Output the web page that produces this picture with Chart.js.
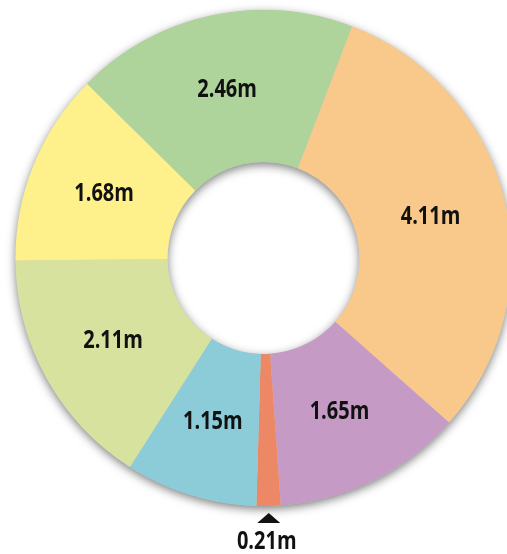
<!DOCTYPE html>
<html>
<head>
<meta charset="utf-8">
<script src="https://cdn.jsdelivr.net/npm/chart.js@4/dist/chart.umd.min.js"></script>
<style>
  html, body { margin: 0; padding: 0; background: #fff; overflow: hidden; width: 507px; height: 554px; }
  #wrap { position: absolute; left: 0; top: 0; width: 527px; height: 554px; }
</style>
</head>
<body>
<div id="wrap"><canvas id="c"></canvas></div>
<script>
const categories = ['Segment A', 'Segment B', 'Segment C', 'Segment D', 'Segment E', 'Segment F', 'Segment G'];
const values = [4.11, 1.65, 0.21, 1.15, 2.11, 1.68, 2.46];
const colors = ['#F8C98A', '#C59AC5', '#EC8866', '#8BCCD8', '#D6E29E', '#FEF08A', '#AED39B'];
const unit = 'm';

const FONT = "bold 25px 'Open Sans', 'Liberation Sans', sans-serif";
const X_SCALE = 0.8;

function drawCondensed(ctx, text, x, y) {
  ctx.save();
  ctx.translate(x, y);
  ctx.scale(X_SCALE, 1);
  ctx.fillText(text, 0, 0);
  ctx.restore();
}

const ringShadow = {
  id: 'ringShadow',
  beforeDatasetsDraw(chart) {
    const meta = chart.getDatasetMeta(0);
    if (!meta.data.length) return;
    const a = meta.data[0];
    const ctx = chart.ctx;
    ctx.save();
    ctx.shadowColor = 'rgba(0,0,0,0.5)';
    ctx.shadowBlur = 10;
    ctx.shadowOffsetX = 0;
    ctx.shadowOffsetY = 3;
    ctx.fillStyle = '#ccc';
    ctx.beginPath();
    ctx.arc(a.x, a.y, a.outerRadius, 0, Math.PI * 2);
    ctx.arc(a.x, a.y, a.innerRadius, 0, Math.PI * 2, true);
    ctx.closePath();
    ctx.fill();
    ctx.restore();
  }
};

const sliceLabels = {
  id: 'sliceLabels',
  afterDatasetsDraw(chart) {
    const ctx = chart.ctx;
    const meta = chart.getDatasetMeta(0);
    ctx.save();
    ctx.font = FONT;
    ctx.fillStyle = '#111';
    ctx.textAlign = 'center';
    ctx.textBaseline = 'middle';
    meta.data.forEach((arc, i) => {
      const text = values[i].toFixed(2) + unit;
      const mid = (arc.startAngle + arc.endAngle) / 2;
      const span = arc.endAngle - arc.startAngle;
      if (span > 0.3) {
        const r = (arc.innerRadius + arc.outerRadius) / 2;
        drawCondensed(ctx, text, arc.x + Math.cos(mid) * r, arc.y + Math.sin(mid) * r);
      } else {
        const r0 = arc.outerRadius + 7;
        const px = arc.x + Math.cos(mid) * r0;
        const py = arc.y + Math.sin(mid) * r0;
        ctx.beginPath();
        ctx.moveTo(px, py);
        ctx.lineTo(px - 11.5, py + 10);
        ctx.lineTo(px + 11.5, py + 10);
        ctx.closePath();
        ctx.fill();
        drawCondensed(ctx, text, px - 2, py + 29);
      }
    });
    ctx.restore();
  }
};

new Chart(document.getElementById('c'), {
  type: 'doughnut',
  data: {
    labels: categories,
    datasets: [{
      data: values,
      backgroundColor: colors,
      borderWidth: 0,
      hoverOffset: 0
    }]
  },
  options: {
    responsive: true,
    maintainAspectRatio: false,
    animation: false,
    rotation: 20.9,
    cutout: '38.7%',
    layout: { padding: { left: 15.5, right: 15.5, top: 10, bottom: 48 } },
    plugins: {
      legend: { display: false },
      tooltip: { enabled: false },
      title: { display: false }
    },
    events: []
  },
  plugins: [ringShadow, sliceLabels]
});
</script>
</body>
</html>
